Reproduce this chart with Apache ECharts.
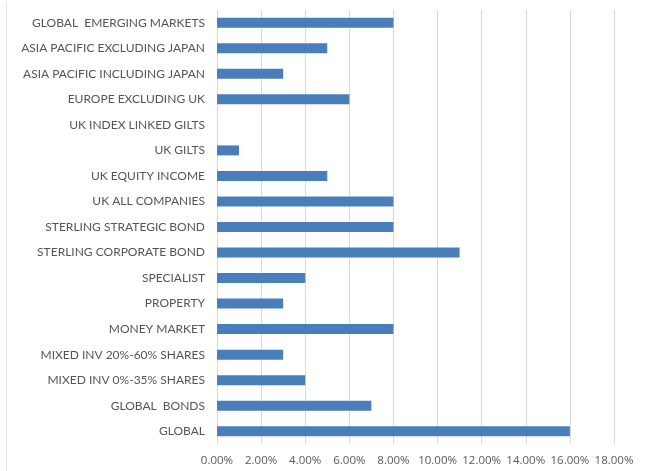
<!DOCTYPE html>
<html>
<head>
<meta charset="utf-8">
<script src="https://cdn.jsdelivr.net/npm/echarts@6/dist/echarts.min.js"></script>
<style>
  html, body { margin: 0; padding: 0; background: #fff; }
  #chart { width: 649px; height: 471px; }
</style>
</head>
<body>
<div id="chart"></div>
<script>
// categories bottom -> top (as drawn by the category axis)
const categories = [
  'GLOBAL',
  'GLOBAL  BONDS',
  'MIXED INV 0%-35% SHARES',
  'MIXED INV 20%-60% SHARES',
  'MONEY MARKET',
  'PROPERTY',
  'SPECIALIST',
  'STERLING CORPORATE BOND',
  'STERLING STRATEGIC BOND',
  'UK ALL COMPANIES',
  'UK EQUITY INCOME',
  'UK GILTS',
  'UK INDEX LINKED GILTS',
  'EUROPE EXCLUDING UK',
  'ASIA PACIFIC INCLUDING JAPAN',
  'ASIA PACIFIC EXCLUDING JAPAN',
  'GLOBAL  EMERGING MARKETS'
];
// share of funds, as fraction
const shares = [0.16, 0.07, 0.04, 0.03, 0.08, 0.03, 0.04, 0.11, 0.08, 0.08, 0.05, 0.01, 0, 0.06, 0.03, 0.05, 0.08];

const xMin = 0;
const xMax = 0.18;
const xStep = 0.02;

const chart = echarts.init(document.getElementById('chart'), null, { renderer: 'canvas' });

const option = {
  backgroundColor: '#ffffff',
  animation: false,
  grid: { left: 217, right: 35, top: 10, bottom: 27, containLabel: false },
  xAxis: {
    type: 'value',
    min: xMin,
    max: xMax,
    interval: xStep,
    axisLine: { show: false },
    axisTick: { show: false },
    splitLine: { show: true, lineStyle: { color: '#d9d9d9', width: 1 } },
    axisLabel: {
      color: '#595959',
      fontFamily: 'Open Sans',
      fontSize: 11.5,
      margin: 11,
      formatter: v => (v * 100).toFixed(2) + '%'
    }
  },
  yAxis: {
    type: 'category',
    data: categories,
    axisLine: { show: false },
    axisTick: { show: false },
    splitLine: { show: false },
    axisLabel: {
      color: '#555555',
      fontFamily: 'Lato',
      fontSize: 12,
      margin: 12
    }
  },
  series: [{
    type: 'bar',
    data: shares,
    barWidth: 10,
    itemStyle: { color: '#4a7ebb' }
  }],
  graphic: [{
    type: 'line',
    shape: { x1: 6.5, y1: 2, x2: 6.5, y2: 471 },
    style: { stroke: '#e6e6e6', lineWidth: 1 }
  }]
};

chart.setOption(option);
</script>
</body>
</html>
